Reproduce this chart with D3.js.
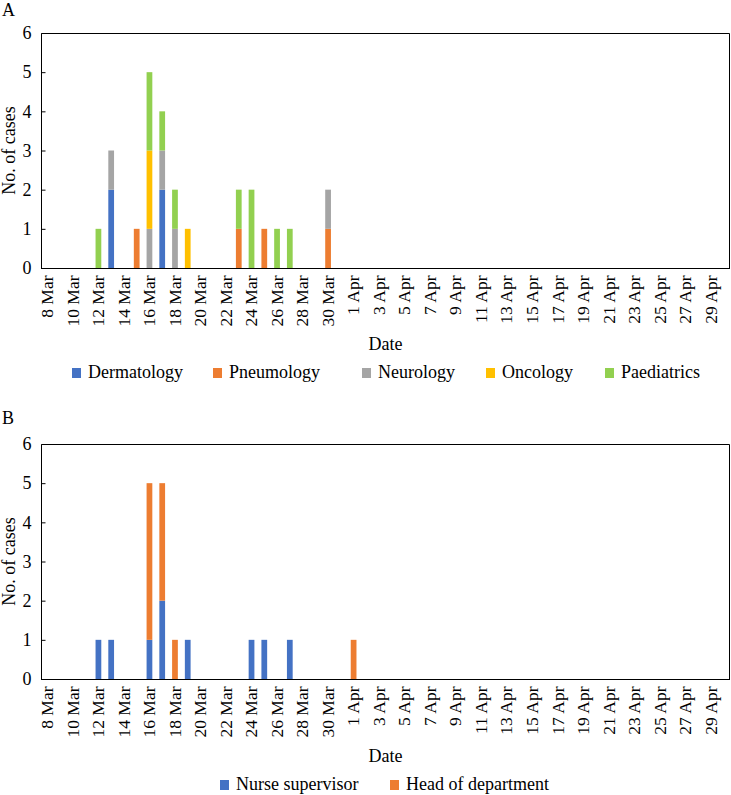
<!DOCTYPE html>
<html>
<head>
<meta charset="utf-8">
<script src="https://cdn.jsdelivr.net/npm/d3@7"></script>
<style>
  html, body { margin: 0; padding: 0; background: #fff; }
  svg { display: block; font-family: "Liberation Serif", "Times New Roman", serif; }
</style>
</head>
<body>
<svg id="chart" width="731" height="795"></svg>
<script>
// ---- Data ----
const days = [
  "8 Mar","9 Mar","10 Mar","11 Mar","12 Mar","13 Mar","14 Mar","15 Mar","16 Mar","17 Mar",
  "18 Mar","19 Mar","20 Mar","21 Mar","22 Mar","23 Mar","24 Mar","25 Mar","26 Mar","27 Mar",
  "28 Mar","29 Mar","30 Mar","31 Mar","1 Apr","2 Apr","3 Apr","4 Apr","5 Apr","6 Apr",
  "7 Apr","8 Apr","9 Apr","10 Apr","11 Apr","12 Apr","13 Apr","14 Apr","15 Apr","16 Apr",
  "17 Apr","18 Apr","19 Apr","20 Apr","21 Apr","22 Apr","23 Apr","24 Apr","25 Apr","26 Apr",
  "27 Apr","28 Apr","29 Apr","30 Apr"
];
// labelled ticks (every other day)
const tickLabels = days.filter((d, i) => i % 2 === 0);
const yTicks = [0, 1, 2, 3, 4, 5, 6];

// Panel A – departments
const dermatology = [0,0,0,0,0,2,0,0,0,2, 0,0,0,0,0,0,0,0,0,0, 0,0,0,0,0,0,0,0,0,0, 0,0,0,0,0,0,0,0,0,0, 0,0,0,0,0,0,0,0,0,0, 0,0,0,0];
const pneumology  = [0,0,0,0,0,0,0,1,0,0, 0,0,0,0,0,1,0,1,0,0, 0,0,1,0,0,0,0,0,0,0, 0,0,0,0,0,0,0,0,0,0, 0,0,0,0,0,0,0,0,0,0, 0,0,0,0];
const neurology   = [0,0,0,0,0,1,0,0,1,1, 1,0,0,0,0,0,0,0,0,0, 0,0,1,0,0,0,0,0,0,0, 0,0,0,0,0,0,0,0,0,0, 0,0,0,0,0,0,0,0,0,0, 0,0,0,0];
const oncology    = [0,0,0,0,0,0,0,0,2,0, 0,1,0,0,0,0,0,0,0,0, 0,0,0,0,0,0,0,0,0,0, 0,0,0,0,0,0,0,0,0,0, 0,0,0,0,0,0,0,0,0,0, 0,0,0,0];
const paediatrics = [0,0,0,0,1,0,0,0,2,1, 1,0,0,0,0,1,2,0,1,1, 0,0,0,0,0,0,0,0,0,0, 0,0,0,0,0,0,0,0,0,0, 0,0,0,0,0,0,0,0,0,0, 0,0,0,0];

// Panel B – roles
const nurseSupervisor  = [0,0,0,0,1,1,0,0,1,2, 0,1,0,0,0,0,1,1,0,1, 0,0,0,0,0,0,0,0,0,0, 0,0,0,0,0,0,0,0,0,0, 0,0,0,0,0,0,0,0,0,0, 0,0,0,0];
const headOfDepartment = [0,0,0,0,0,0,0,0,4,3, 1,0,0,0,0,0,0,0,0,0, 0,0,0,0,1,0,0,0,0,0, 0,0,0,0,0,0,0,0,0,0, 0,0,0,0,0,0,0,0,0,0, 0,0,0,0];

const seriesA = [
  { name: "Dermatology", values: dermatology },
  { name: "Pneumology",  values: pneumology },
  { name: "Neurology",   values: neurology },
  { name: "Oncology",    values: oncology },
  { name: "Paediatrics", values: paediatrics }
];
const seriesB = [
  { name: "Nurse supervisor",   values: nurseSupervisor },
  { name: "Head of department", values: headOfDepartment }
];

// ---- Styles / layout ----
const colorsA = ["#4472C4", "#ED7D31", "#A5A5A5", "#FFC000", "#92D050"];
const colorsB = ["#4472C4", "#ED7D31"];
const FONT = 18;
const TICKFONT = 17.5;
const svg = d3.select("#chart");

function panel(cfg) {
  const { series, colors, top, bottom, letter, letterY, dateY, legendY, legendX } = cfg;
  const left = 41, right = 730;
  const g = svg.append("g");

  const x = d3.scaleBand().domain(days).range([left, right]).padding(0);
  const y = d3.scaleLinear().domain([0, 6]).range([bottom, top]);

  // table for stacking
  const keys = series.map(s => s.name);
  const table = days.map((d, i) => {
    const row = { day: d };
    series.forEach(s => row[s.name] = s.values[i]);
    return row;
  });
  const stacked = d3.stack().keys(keys)(table);

  const bw = x.step() * 0.45;
  stacked.forEach((layer, k) => {
    g.append("g").attr("fill", colors[k])
      .selectAll("rect")
      .data(layer.filter(d => d[1] - d[0] > 0))
      .join("rect")
      .attr("x", d => x(d.data.day) + (x.step() - bw) / 2)
      .attr("width", bw)
      .attr("y", d => y(d[1]))
      .attr("height", d => y(d[0]) - y(d[1]));
  });

  // frame (top and right border)
  g.append("path")
    .attr("d", `M${left + 0.5},${top + 0.5}H${right - 0.5}V${bottom + 0.5}`)
    .attr("fill", "none").attr("stroke", "#000").attr("stroke-width", 1);

  // y axis with inward ticks
  const yAxis = d3.axisLeft(y).tickValues(yTicks).tickSize(-4).tickPadding(10).tickFormat(d3.format("d"));
  const ya = g.append("g").attr("transform", `translate(${left + 0.5},0)`).call(yAxis);
  ya.select(".domain").attr("stroke", "#000").attr("d", `M0,${top + 0.5}V${bottom + 0.5}`);
  ya.selectAll(".tick line").attr("stroke", "#000");
  ya.selectAll(".tick text").attr("font-size", FONT).attr("font-family", "Liberation Serif").attr("fill", "#000");

  // x axis
  const xAxis = d3.axisBottom(x).tickValues(tickLabels).tickSize(0).tickPadding(0);
  const xa = g.append("g").attr("transform", `translate(0,${bottom + 0.5})`).call(xAxis);
  xa.select(".domain").attr("stroke", "#000").attr("d", `M${left},0H${right}`);
  xa.selectAll(".tick text")
    .attr("font-size", TICKFONT).attr("font-family", "Liberation Serif").attr("fill", "#000")
    .attr("text-anchor", "end")
    .attr("transform", "rotate(-90)")
    .attr("x", -7).attr("y", 0).attr("dy", "0.33em");

  // titles
  g.append("text").attr("x", 2).attr("y", letterY).attr("font-size", FONT).text(letter);
  g.append("text")
    .attr("transform", `translate(15,${(top + bottom) / 2}) rotate(-90)`)
    .attr("text-anchor", "middle").attr("font-size", FONT).text("No. of cases");
  g.append("text").attr("x", (left + right) / 2).attr("y", dateY)
    .attr("text-anchor", "middle").attr("font-size", FONT).text("Date");

  // legend
  const lg = g.append("g");
  series.forEach((s, k) => {
    lg.append("rect").attr("x", legendX[k]).attr("y", legendY - 10)
      .attr("width", 9).attr("height", 10).attr("fill", colors[k]);
    lg.append("text").attr("x", legendX[k] + 16).attr("y", legendY)
      .attr("font-size", FONT).text(s.name);
  });
}

panel({ series: seriesA, colors: colorsA, top: 33, bottom: 268, letter: "A", letterY: 16,
        dateY: 350, legendY: 378, legendX: [72, 213, 362, 486, 605] });
panel({ series: seriesB, colors: colorsB, top: 444, bottom: 679, letter: "B", letterY: 424,
        dateY: 762, legendY: 790, legendX: [220, 390] });
</script>
</body>
</html>
